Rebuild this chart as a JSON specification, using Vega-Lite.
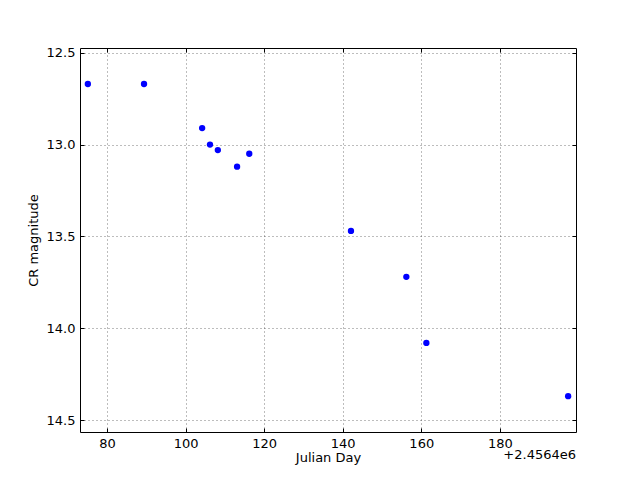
{
  "$schema": "https://vega.github.io/schema/vega-lite/v6.json",
  "width": 496,
  "height": 384,
  "autosize": {"type": "none"},
  "padding": {"left": 80, "top": 48, "right": 64, "bottom": 48},
  "background": "white",
  "config": {
    "view": {"stroke": "black", "strokeWidth": 1},
    "font": "DejaVu Sans",
    "axis": {
      "labelFont": "DejaVu Sans", "labelFontSize": 13, "labelColor": "black",
      "titleFont": "DejaVu Sans", "titleFontSize": 13, "titleFontWeight": "normal", "titleColor": "black",
      "domain": false, "tickColor": "black", "tickSize": -4, "tickWidth": 1,
      "gridColor": "black", "gridDash": [1, 3], "gridWidth": 0.7, "gridOpacity": 0.75
    }
  },
  "data": {"values": [
    {"jd": 2456475.1, "mag": 12.67},
    {"jd": 2456489.4, "mag": 12.67},
    {"jd": 2456504.2, "mag": 12.91},
    {"jd": 2456506.2, "mag": 13.00},
    {"jd": 2456508.2, "mag": 13.03},
    {"jd": 2456513.1, "mag": 13.12},
    {"jd": 2456516.2, "mag": 13.05},
    {"jd": 2456542.1, "mag": 13.47},
    {"jd": 2456556.2, "mag": 13.72},
    {"jd": 2456561.3, "mag": 14.08},
    {"jd": 2456597.4, "mag": 14.37}
  ]},
  "layer": [
    {
      "mark": {"type": "point", "filled": true, "color": "#0000ff", "opacity": 1, "size": 40, "strokeWidth": 0},
      "encoding": {
        "x": {"field": "jd", "type": "quantitative",
              "scale": {"domain": [2456473.1, 2456599.4], "zero": false, "nice": false},
              "axis": {"values": [2456480, 2456500, 2456520, 2456540, 2456560, 2456580],
                       "labelExpr": "format(datum.value - 2456400, 'd')", "grid": true,
                       "title": "Julian Day", "labelPadding": 9, "titlePadding": 1}},
        "y": {"field": "mag", "type": "quantitative",
              "scale": {"domain": [12.474, 14.565], "reverse": true, "zero": false, "nice": false},
              "axis": {"values": [12.5, 13.0, 13.5, 14.0, 14.5], "format": ".1f", "grid": true,
                       "title": "CR magnitude", "labelPadding": 9, "titlePadding": 6}}
      }
    },
    {
      "mark": {"type": "point", "opacity": 0},
      "encoding": {
        "x": {"field": "jd", "type": "quantitative",
              "axis": {"orient": "top", "values": [2456480, 2456500, 2456520, 2456540, 2456560, 2456580],
                       "labels": false, "grid": false, "title": null}},
        "y": {"field": "mag", "type": "quantitative",
              "axis": {"orient": "right", "values": [12.5, 13.0, 13.5, 14.0, 14.5],
                       "labels": false, "grid": false, "title": null}}
      }
    },
    {
      "data": {"values": [{"t": "+2.4564e6"}]},
      "mark": {"type": "text", "align": "right", "baseline": "top", "dy": 17, "fontSize": 13, "font": "DejaVu Sans", "color": "black"},
      "encoding": {
        "x": {"datum": 2456599.4, "type": "quantitative", "axis": null},
        "y": {"datum": 14.565, "type": "quantitative", "axis": null},
        "text": {"field": "t"}
      }
    }
  ],
  "resolve": {"axis": {"x": "independent", "y": "independent"}}
}
